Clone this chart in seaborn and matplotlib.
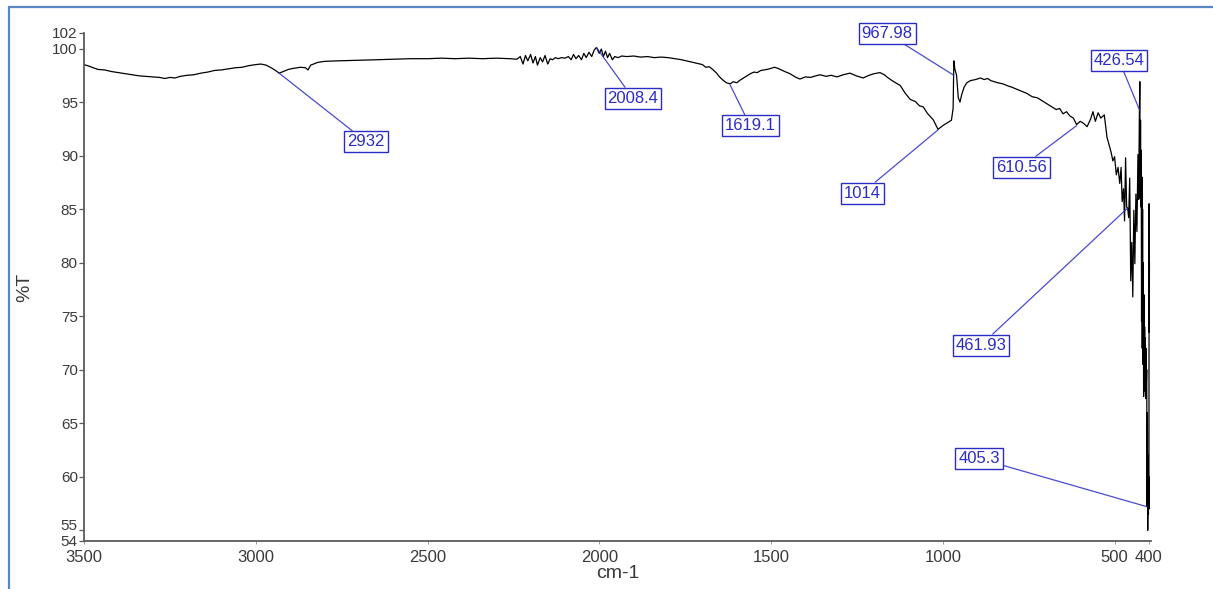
import matplotlib
matplotlib.use("Agg")
import matplotlib.pyplot as plt
import matplotlib.transforms as mtransforms
from matplotlib.lines import Line2D
import seaborn as sns

# FTIR transmittance spectrum (wavenumber in cm-1, transmittance in %T)
wavenumber = [
    3500, 3485, 3460, 3440, 3420, 3400, 3380, 3360, 3340, 3320, 3300, 3280, 3265, 3250, 3235,
    3220, 3200, 3180, 3160, 3140, 3120, 3100, 3080, 3060, 3040, 3020, 3000, 2985, 2970, 2955,
    2940, 2932, 2920, 2905, 2890, 2870, 2855, 2848, 2840, 2820, 2800, 2760, 2700, 2650, 2600,
    2550, 2500, 2460, 2420, 2380, 2340, 2300, 2260, 2240, 2230, 2222, 2215, 2208, 2200, 2193,
    2186, 2180, 2172, 2165, 2158, 2150, 2143, 2136, 2128, 2120, 2110, 2100, 2090, 2082, 2075,
    2068, 2060, 2052, 2045, 2038, 2030, 2022, 2015, 2008.4, 2000, 1994, 1988, 1982, 1976, 1970,
    1962, 1955, 1945, 1935, 1920, 1900, 1880, 1860, 1840, 1820, 1800, 1780, 1760, 1740, 1720,
    1700, 1690, 1680, 1670, 1660, 1650, 1640, 1630, 1619.1, 1610, 1600, 1590, 1580, 1570, 1560,
    1550, 1540, 1530, 1520, 1505, 1490, 1480, 1470, 1460, 1445, 1430, 1416, 1400, 1385, 1370,
    1357, 1340, 1325, 1308, 1290, 1270, 1252, 1232, 1215, 1200, 1183, 1170, 1163, 1150, 1140,
    1124, 1110, 1095, 1080, 1068, 1057, 1045, 1028, 1014, 1000, 985, 975, 970, 967.98, 965,
    960, 955, 950, 945, 938, 930, 920, 905, 890, 880, 870, 860, 850, 840, 825,
    810, 800, 785, 770, 755, 740, 725, 710, 695, 680, 670, 660, 650, 640, 630,
    620, 610.56, 600, 590, 580, 570, 563, 556, 548, 540, 530, 522, 515, 510, 505,
    500, 495, 490, 485, 481, 478, 474, 471, 468, 465, 461.93, 459, 456, 453, 450,
    447, 444, 441, 438, 435, 432, 430, 428, 426.54, 425.5, 424.5, 423.5, 422.5, 421.5, 420.5,
    419.5, 418.5, 417.5, 416.5, 415.5, 414.5, 413.5, 412.5, 411.5, 410.5, 409.5, 408.5, 407.5, 406.5, 405.3,
    404.5, 403.5, 402.5, 401.5, 400.5, 400, 399.5, 399, 398.5,
]
transmittance = [
    98.5, 98.35, 98.05, 98.0, 97.85, 97.75, 97.65, 97.55, 97.45, 97.4, 97.35, 97.3, 97.2, 97.3, 97.25,
    97.4, 97.5, 97.55, 97.7, 97.8, 97.95, 98.0, 98.1, 98.2, 98.25, 98.4, 98.5, 98.55, 98.45, 98.2,
    97.9, 97.7, 97.85, 98.05, 98.15, 98.25, 98.2, 98.0, 98.45, 98.7, 98.8, 98.85, 98.9, 98.95, 99.0,
    99.05, 99.05, 99.1, 99.05, 99.1, 99.05, 99.1, 99.05, 99.0, 99.25, 98.55, 99.35, 98.85, 99.45, 98.65,
    99.25, 98.45, 99.15, 98.75, 99.35, 98.55, 99.05, 98.95, 99.15, 99.05, 99.15, 99.1, 99.25, 98.95, 99.45,
    99.05, 99.35, 98.95, 99.55, 99.15, 99.65, 99.25, 99.85, 100.1, 99.55, 99.95, 99.25, 99.75, 99.15, 99.55,
    98.95, 99.25, 99.15, 99.3, 99.25, 99.3, 99.2, 99.25, 99.15, 99.2, 99.15, 99.05, 98.95, 98.8, 98.65,
    98.5, 98.25, 98.3, 98.05, 97.75, 97.35, 97.05, 96.8, 96.7, 96.9, 96.8, 97.05, 97.25, 97.45, 97.65,
    97.8, 97.75, 97.95, 98.0, 98.1, 98.25, 98.15, 98.0, 97.85, 97.65, 97.35, 97.15, 97.35, 97.3, 97.45,
    97.55, 97.4, 97.5, 97.35, 97.55, 97.7, 97.45, 97.25, 97.5, 97.65, 97.75, 97.55, 97.35, 97.05, 96.85,
    96.55, 95.85, 95.25, 95.05, 94.65, 94.55, 93.95, 93.35, 92.45, 92.8, 93.1, 93.3, 94.4, 98.85, 98.1,
    97.5, 95.4, 95.0, 95.7, 96.4, 96.8, 97.0, 97.1, 97.25, 97.1, 97.2, 97.0, 96.9, 96.8, 96.7,
    96.5, 96.4, 96.2, 96.0, 95.8, 95.5, 95.4, 95.1, 94.8, 94.5, 94.3, 94.4, 93.9, 94.1, 93.7,
    93.5, 92.9, 93.2, 93.0, 92.7, 93.4, 94.1, 93.2, 94.0, 93.5, 93.8, 91.7, 90.9, 90.3, 89.5,
    89.9, 88.2, 88.9, 87.4, 88.9, 85.7, 86.9, 83.9, 89.8, 85.2, 85.1, 84.2, 87.9, 78.3, 81.9,
    76.8, 84.9, 79.9, 86.4, 82.9, 90.1, 85.9, 93.3, 96.9, 86.0, 93.3, 85.2, 90.5, 74.5, 88.0,
    72.0, 85.0, 70.5, 80.0, 67.5, 77.0, 69.0, 74.0, 68.0, 73.0, 67.3, 72.0, 68.5, 70.0, 57.2,
    66.0, 55.0, 62.0, 56.5, 60.0, 57.0, 85.5, 73.5, 80.0,
]

# Peak labels and the %T at which each leader line meets the trace
peak_labels = ["2932", "2008.4", "1619.1", "967.98", "1014", "426.54", "610.56", "461.93", "405.3"]
peak_wavenumber = [2932, 2008.4, 1619.1, 967.98, 1014, 426.54, 610.56, 461.93, 405.3]
peak_transmittance = [97.7, 100.1, 96.6, 97.5, 92.4, 94.2, 92.8, 85.1, 57.2]

# Where each label box sits (data coordinates)
label_box_xy = [
    (2679, 91.3), (1902, 95.35), (1561, 92.8), (1162, 101.4), (1235, 86.5),
    (487, 98.9), (772, 88.9), (889, 72.3), (894, 61.7),
]

y_tick_values = [54, 55, 60, 65, 70, 75, 80, 85, 90, 95, 100, 101.45]
y_tick_labels = ["54", "55", "60", "65", "70", "75", "80", "85", "90", "95", "100", "102"]
x_tick_values = [3500, 3000, 2500, 2000, 1500, 1000, 500, 400]
x_tick_labels = ["3500", "3000", "2500", "2000", "1500", "1000", "500", "400"]

sns.set_style("ticks")
plt.rcParams["font.family"] = ["Liberation Sans Narrow", "Liberation Sans", "DejaVu Sans"]

W, H = 1213, 589
fig = plt.figure(figsize=(W / 100, H / 100), dpi=100)
ax = fig.add_axes([84 / W, 1 - 541 / H, (1151 - 84) / W, (541 - 33) / H])

sns.lineplot(x=wavenumber, y=transmittance, sort=False, estimator=None,
             color="black", linewidth=0.9, ax=ax)

ax.set_xlim(3500, 394)
ax.set_ylim(54, 101.45)
ax.set_xticks(x_tick_values)
ax.set_xticklabels(x_tick_labels)
ax.set_yticks(y_tick_values)
ax.set_yticklabels(y_tick_labels)

axis_grey = "#5a5a5a"
text_grey = "#3a3a3a"
for side in ("top", "right"):
    ax.spines[side].set_visible(False)
for side in ("left", "bottom"):
    ax.spines[side].set_color(axis_grey)
    ax.spines[side].set_linewidth(1.3)

ax.tick_params(axis="y", length=3.5, width=0.9, color=axis_grey, pad=1,
               labelsize=11, labelcolor=text_grey)
ax.tick_params(axis="x", length=2.5, width=0.7, color="#9a9a9a", pad=4,
               labelsize=12, labelcolor=text_grey)

# The "55" label sits just above the bottom end label; lift it so the two stack cleanly.
ytl = ax.get_yticklabels()
ytl[1].set_transform(ytl[1].get_transform() + mtransforms.ScaledTranslation(0, 4.5 / 72, fig.dpi_scale_trans))

ax.set_xlabel("cm-1", fontsize=14, color=text_grey, labelpad=0)
ax.set_ylabel("%T", fontsize=14, color=text_grey, labelpad=14)
ax.set_facecolor("white")

label_blue = "#2b2bc8"
for text, px, py, (bx, by) in zip(peak_labels, peak_wavenumber, peak_transmittance, label_box_xy):
    ax.annotate(
        text, xy=(px, py), xytext=(bx, by), textcoords="data",
        ha="center", va="center", fontsize=12, color=label_blue,
        bbox=dict(boxstyle="square,pad=0.18", fc="white", ec=label_blue, lw=1.0),
        arrowprops=dict(arrowstyle="-", color=label_blue, lw=0.9,
                        shrinkA=0, shrinkB=0, alpha=0.85),
    )

# Page frame lines along the top and left edges
frame_blue = "#5b86c4"
fig.add_artist(Line2D([9 / W, 1.0], [1 - 7 / H, 1 - 7 / H], transform=fig.transFigure,
                      color=frame_blue, linewidth=1.6))
fig.add_artist(Line2D([9 / W, 9 / W], [0.0, 1 - 7 / H], transform=fig.transFigure,
                      color=frame_blue, linewidth=1.6))

fig.savefig("out.png", dpi=100, facecolor="white")
